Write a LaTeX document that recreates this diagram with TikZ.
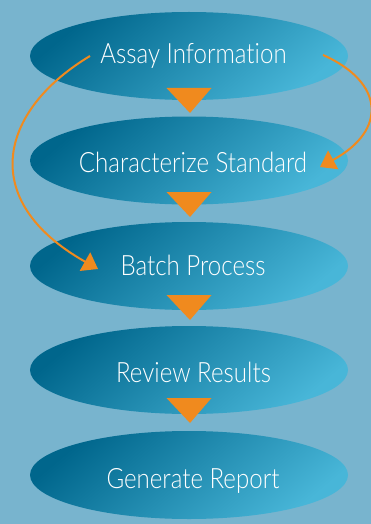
\documentclass[tikz,border=0pt]{standalone}
\usepackage{fontspec}
\setmainfont{Lato}[UprightFont=* Light, FakeStretch=0.86, Ligatures=NoCommon]
\usetikzlibrary{shapes.geometric,arrows.meta,calc}
\definecolor{bgBlue}{RGB}{120,180,206}
\definecolor{ellDark}{RGB}{0,102,140}
\definecolor{ellLight}{RGB}{72,182,216}
\definecolor{arrOrange}{RGB}{240,138,30}
\begin{document}
\begin{tikzpicture}[x=1pt,y=-1pt,
  stage/.style={ellipse, minimum width=318pt, minimum height=88pt, inner sep=0pt,
    left color=ellDark, right color=ellLight, shading angle=40},
  stagetext/.style={inner sep=0pt, text=white, font=\fontsize{28}{30}\selectfont,
    text height=20pt, text depth=0pt},
  flow/.style={draw=arrOrange, line width=2pt, -{Triangle[length=15pt,width=21pt]}},
  septri/.style={fill=arrOrange}]
\fill[bgBlue] (0,0) rectangle (371,524);
\useasboundingbox (0,0) rectangle (371,524);
\node[stage] (a) at (189,56) {};
\node[stage] (b) at (189,160.5) {};
\node[stage] (c) at (189,266) {};
\node[stage] (d) at (189,370) {};
\node[stage] (e) at (189,475) {};
\node[stagetext] (ta) at ($(a.center)+(4.5,-2)$) {Assay Information};
\node[stagetext] (tb) at ($(b.center)+(4,1.5)$) {Characterize Standard};
\node[stagetext] (tc) at ($(c.center)+(4,-1)$) {Batch Process};
\node[stagetext] (td) at ($(d.center)+(4.5,2)$) {Review Results};
\node[stagetext] (te) at ($(e.center)+(4,3)$) {Generate Report};
\foreach \n/\o in {a/32,b/31.5,c/29,d/28}{
  \fill[septri] ($(\n.center)+(-22.5,\o)$) -- ($(\n.center)+(22.5,\o)$) -- ($(\n.center)+(1,\o+25)$) -- cycle;
}
\coordinate (ls) at (90,56);
\coordinate (le) at (98,269);
\coordinate (rs) at (323,55);
\coordinate (re) at (320,167);
\draw[flow] (ls) .. controls (0,110) and (-24,200) .. (le);
\draw[flow] (rs) .. controls (384,82) and (388,130) .. (re);
\end{tikzpicture}
\end{document}
